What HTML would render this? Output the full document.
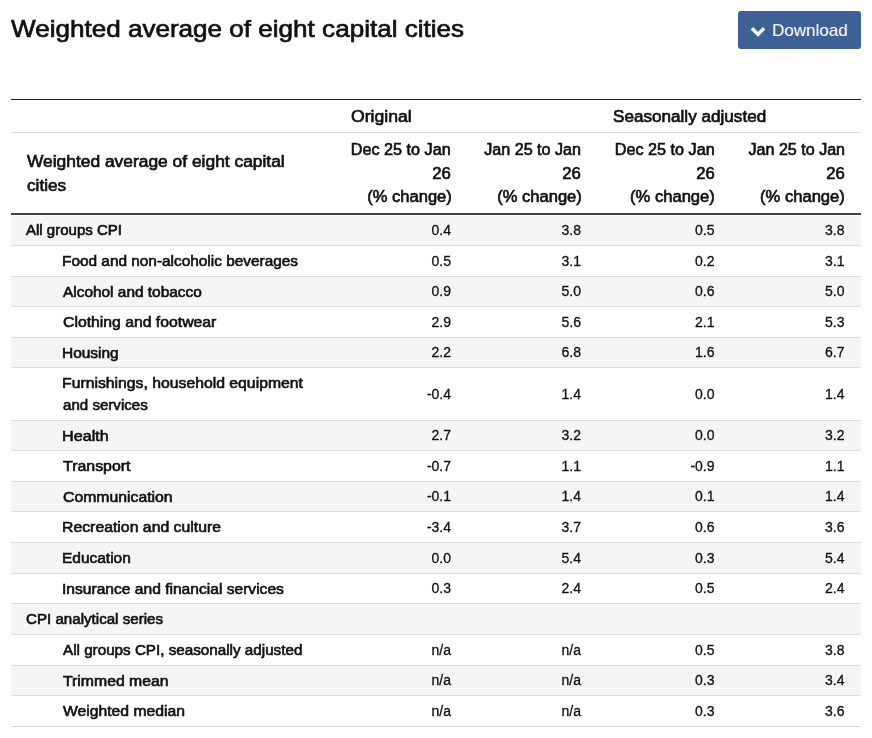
<!DOCTYPE html>
<html><head><meta charset="utf-8"><style>
*{margin:0;padding:0;box-sizing:border-box}
html,body{width:872px;height:738px;background:#fff;overflow:hidden}
body{position:relative;font-family:"Liberation Sans",sans-serif;color:#111}
h1{position:absolute;left:11px;top:10.6px;font-size:24.5px;font-weight:normal;color:#111;line-height:36px;white-space:nowrap;transform:scaleX(1.064);transform-origin:0 0;-webkit-text-stroke:0.7px #111}
.btn{position:absolute;left:738px;top:11px;width:123px;height:37.6px;background:#3d6195;border-radius:3px;color:#fff;font-size:17px;line-height:20px;white-space:nowrap}
.btn span{position:absolute;left:34px;top:10.1px}
.btn svg{position:absolute;left:0;top:0}
.ln{position:absolute;left:11px;width:850px}
.wrap{position:absolute;left:0;top:0;width:872px;height:738px;will-change:transform}
.hd{position:absolute;font-weight:normal;font-size:16px;white-space:nowrap;line-height:24px;-webkit-text-stroke:0.65px #111;transform-origin:0 0}
.hr{transform-origin:100% 0}
.r{position:absolute;left:11px;width:850px;border-bottom:1px solid #dbdbdb}
.r.g{background:#f5f5f5}
.lb{position:absolute;transform-origin:0 0;font-weight:normal;font-size:14px;white-space:nowrap;-webkit-text-stroke:0.6px #111}
.n{position:absolute;font-size:14px;text-align:right;white-space:nowrap;width:60px;-webkit-text-stroke:0.3px #111}
</style></head>
<body>
<div class="wrap">
<h1>Weighted average of eight capital cities</h1>
<div class="ln" style="top:99px;height:1px;background:#212121"></div>
<div class="ln" style="top:132px;height:1px;background:#dbdbdb"></div>
<div class="ln" style="top:213px;height:2px;background:#424242"></div>
<div class="hd" style="left:350.55px;top:105px;transform:scaleX(1.1000)">Original</div>
<div class="hd" style="left:613.00px;top:105px;transform:scaleX(1.0697)">Seasonally adjusted</div>
<div class="hd" style="left:27.30px;top:149.5px;transform:scaleX(1.0865)">Weighted average of eight capital</div>
<div class="hd" style="left:27.30px;top:173.5px;transform:scaleX(1.0726)">cities</div>
<div class="hd hr" style="right:420.90px;top:138.30px;transform:scaleX(1.0124)">Dec 25 to Jan</div>
<div class="hd hr" style="right:420.88px;top:162.30px;transform:scaleX(1.0439)">26</div>
<div class="hd hr" style="right:419.98px;top:185.30px;transform:scaleX(1.0334)">(% change)</div>
<div class="hd hr" style="right:290.89px;top:138.30px;transform:scaleX(1.0085)">Jan 25 to Jan</div>
<div class="hd hr" style="right:290.88px;top:162.30px;transform:scaleX(1.0439)">26</div>
<div class="hd hr" style="right:289.98px;top:185.30px;transform:scaleX(1.0334)">(% change)</div>
<div class="hd hr" style="right:157.09px;top:138.30px;transform:scaleX(1.0124)">Dec 25 to Jan</div>
<div class="hd hr" style="right:157.04px;top:162.30px;transform:scaleX(1.0393)">26</div>
<div class="hd hr" style="right:156.87px;top:185.30px;transform:scaleX(1.0363)">(% change)</div>
<div class="hd hr" style="right:27.09px;top:138.30px;transform:scaleX(1.0053)">Jan 25 to Jan</div>
<div class="hd hr" style="right:27.04px;top:162.30px;transform:scaleX(1.0393)">26</div>
<div class="hd hr" style="right:26.87px;top:185.30px;transform:scaleX(1.0363)">(% change)</div>
<div class="r g" style="top:216px;height:30px">
<div class="lb" style="transform:scaleX(1.0731);left:15.42px;top:-1px;line-height:30px">All groups CPI</div>
<div class="n" style="left:380px;top:-1px;line-height:30px">0.4</div>
<div class="n" style="left:510px;top:-1px;line-height:30px">3.8</div>
<div class="n" style="left:643.5px;top:-1px;line-height:30px">0.5</div>
<div class="n" style="left:773.5px;top:-1px;line-height:30px">3.8</div>
</div>
<div class="r" style="top:246px;height:31px">
<div class="lb" style="transform:scaleX(1.0986);left:51.13px;top:0px;line-height:30px">Food and non-alcoholic beverages</div>
<div class="n" style="left:380px;top:0px;line-height:30px">0.5</div>
<div class="n" style="left:510px;top:0px;line-height:30px">3.1</div>
<div class="n" style="left:643.5px;top:0px;line-height:30px">0.2</div>
<div class="n" style="left:773.5px;top:0px;line-height:30px">3.1</div>
</div>
<div class="r g" style="top:277px;height:30px">
<div class="lb" style="transform:scaleX(1.1008);left:52.23px;top:0px;line-height:30px">Alcohol and tobacco</div>
<div class="n" style="left:380px;top:0px;line-height:29px">0.9</div>
<div class="n" style="left:510px;top:0px;line-height:29px">5.0</div>
<div class="n" style="left:643.5px;top:0px;line-height:29px">0.6</div>
<div class="n" style="left:773.5px;top:0px;line-height:29px">5.0</div>
</div>
<div class="r" style="top:307px;height:31px">
<div class="lb" style="transform:scaleX(1.1257);left:52.11px;top:0px;line-height:30px">Clothing and footwear</div>
<div class="n" style="left:380px;top:0px;line-height:30px">2.9</div>
<div class="n" style="left:510px;top:0px;line-height:30px">5.6</div>
<div class="n" style="left:643.5px;top:0px;line-height:30px">2.1</div>
<div class="n" style="left:773.5px;top:0px;line-height:30px">5.3</div>
</div>
<div class="r g" style="top:338px;height:30px">
<div class="lb" style="transform:scaleX(1.1041);left:51.13px;top:0px;line-height:30px">Housing</div>
<div class="n" style="left:380px;top:0px;line-height:29px">2.2</div>
<div class="n" style="left:510px;top:0px;line-height:29px">6.8</div>
<div class="n" style="left:643.5px;top:0px;line-height:29px">1.6</div>
<div class="n" style="left:773.5px;top:0px;line-height:29px">6.7</div>
</div>
<div class="r" style="top:368px;height:53px">
<div class="lb" style="transform:scaleX(1.1257);left:51.11px;top:4.7px;line-height:21.5px">Furnishings, household equipment</div>
<div class="lb" style="transform:scaleX(1.0782);left:52.14px;top:26.7px;line-height:21.5px">and services</div>
<div class="n" style="left:380px;top:0px;line-height:52px">-0.4</div>
<div class="n" style="left:510px;top:0px;line-height:52px">1.4</div>
<div class="n" style="left:643.5px;top:0px;line-height:52px">0.0</div>
<div class="n" style="left:773.5px;top:0px;line-height:52px">1.4</div>
</div>
<div class="r g" style="top:421px;height:30px">
<div class="lb" style="transform:scaleX(1.1538);left:51.09px;top:0px;line-height:30px">Health</div>
<div class="n" style="left:380px;top:0px;line-height:29px">2.7</div>
<div class="n" style="left:510px;top:0px;line-height:29px">3.2</div>
<div class="n" style="left:643.5px;top:0px;line-height:29px">0.0</div>
<div class="n" style="left:773.5px;top:0px;line-height:29px">3.2</div>
</div>
<div class="r" style="top:451px;height:31px">
<div class="lb" style="transform:scaleX(1.1368);left:52.23px;top:0px;line-height:30px">Transport</div>
<div class="n" style="left:380px;top:0px;line-height:30px">-0.7</div>
<div class="n" style="left:510px;top:0px;line-height:30px">1.1</div>
<div class="n" style="left:643.5px;top:0px;line-height:30px">-0.9</div>
<div class="n" style="left:773.5px;top:0px;line-height:30px">1.1</div>
</div>
<div class="r g" style="top:482px;height:30px">
<div class="lb" style="transform:scaleX(1.1272);left:52.11px;top:0px;line-height:30px">Communication</div>
<div class="n" style="left:380px;top:0px;line-height:29px">-0.1</div>
<div class="n" style="left:510px;top:0px;line-height:29px">1.4</div>
<div class="n" style="left:643.5px;top:0px;line-height:29px">0.1</div>
<div class="n" style="left:773.5px;top:0px;line-height:29px">1.4</div>
</div>
<div class="r" style="top:512px;height:31px">
<div class="lb" style="transform:scaleX(1.1293);left:51.11px;top:0px;line-height:30px">Recreation and culture</div>
<div class="n" style="left:380px;top:0px;line-height:30px">-3.4</div>
<div class="n" style="left:510px;top:0px;line-height:30px">3.7</div>
<div class="n" style="left:643.5px;top:0px;line-height:30px">0.6</div>
<div class="n" style="left:773.5px;top:0px;line-height:30px">3.6</div>
</div>
<div class="r g" style="top:543px;height:31px">
<div class="lb" style="transform:scaleX(1.1049);left:51.13px;top:0px;line-height:30px">Education</div>
<div class="n" style="left:380px;top:0px;line-height:30px">0.0</div>
<div class="n" style="left:510px;top:0px;line-height:30px">5.4</div>
<div class="n" style="left:643.5px;top:0px;line-height:30px">0.3</div>
<div class="n" style="left:773.5px;top:0px;line-height:30px">5.4</div>
</div>
<div class="r" style="top:574px;height:30px">
<div class="lb" style="transform:scaleX(1.1136);left:51.12px;top:0px;line-height:30px">Insurance and financial services</div>
<div class="n" style="left:380px;top:0px;line-height:29px">0.3</div>
<div class="n" style="left:510px;top:0px;line-height:29px">2.4</div>
<div class="n" style="left:643.5px;top:0px;line-height:29px">0.5</div>
<div class="n" style="left:773.5px;top:0px;line-height:29px">2.4</div>
</div>
<div class="r g" style="top:604px;height:31px">
<div class="lb" style="transform:scaleX(1.0802);left:15.34px;top:0px;line-height:30px">CPI analytical series</div>
</div>
<div class="r" style="top:635px;height:31px">
<div class="lb" style="transform:scaleX(1.0868);left:52.22px;top:0px;line-height:30px">All groups CPI, seasonally adjusted</div>
<div class="n" style="left:380px;top:0px;line-height:30px">n/a</div>
<div class="n" style="left:510px;top:0px;line-height:30px">n/a</div>
<div class="n" style="left:643.5px;top:0px;line-height:30px">0.5</div>
<div class="n" style="left:773.5px;top:0px;line-height:30px">3.8</div>
</div>
<div class="r g" style="top:666px;height:30px">
<div class="lb" style="transform:scaleX(1.1280);left:52.24px;top:0px;line-height:30px">Trimmed mean</div>
<div class="n" style="left:380px;top:0px;line-height:29px">n/a</div>
<div class="n" style="left:510px;top:0px;line-height:29px">n/a</div>
<div class="n" style="left:643.5px;top:0px;line-height:29px">0.3</div>
<div class="n" style="left:773.5px;top:0px;line-height:29px">3.4</div>
</div>
<div class="r" style="top:696px;height:31px">
<div class="lb" style="transform:scaleX(1.1221);left:52.23px;top:0px;line-height:30px">Weighted median</div>
<div class="n" style="left:380px;top:0px;line-height:30px">n/a</div>
<div class="n" style="left:510px;top:0px;line-height:30px">n/a</div>
<div class="n" style="left:643.5px;top:0px;line-height:30px">0.3</div>
<div class="n" style="left:773.5px;top:0px;line-height:30px">3.6</div>
</div>
</div>
<div class="btn"><svg width="30" height="30" viewBox="0 0 30 30"><path d="M12.7 18.4 L15.1 16.0 L20 20.9 L24.9 16.0 L27.3 18.4 L20 25.7 Z" fill="#fff"/></svg><span>Download</span></div>
</body></html>
